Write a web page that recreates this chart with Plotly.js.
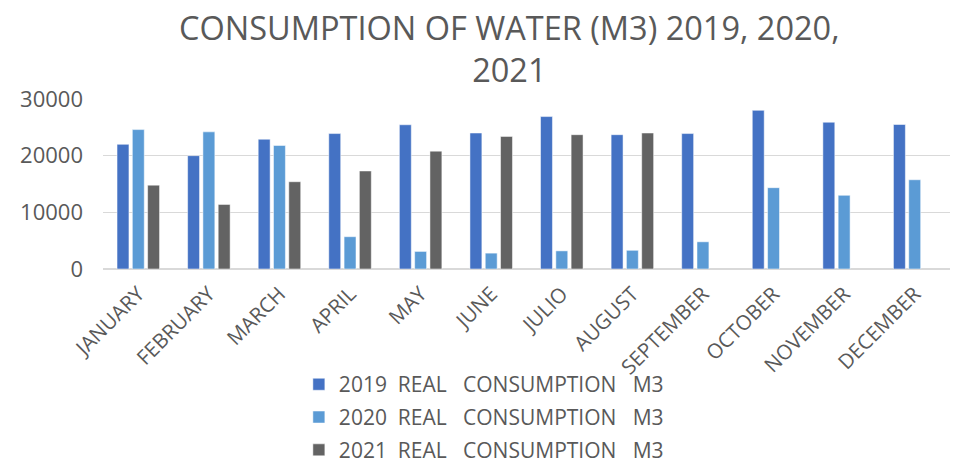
<!DOCTYPE html>
<html>
<head>
<meta charset="utf-8">
<script src="https://cdn.plot.ly/plotly-3.0.1.min.js"></script>
<style>html,body{margin:0;padding:0;background:#fff;}#chart{width:961px;height:465px;}</style>
</head>
<body>
<div id="chart"></div>
<script>
const months = ["JANUARY","FEBRUARY","MARCH","APRIL","MAY","JUNE","JULIO","AUGUST","SEPTEMBER","OCTOBER","NOVEMBER","DECEMBER"];
const consumption2019 = [22000,20000,22900,23900,25450,24000,26900,23700,23900,28000,25900,25500];
const consumption2020 = [24600,24200,21800,5700,3100,2800,3200,3300,4800,14350,13000,15750];
const consumption2021 = [14800,11400,15400,17300,20800,23400,23700,24000,null,null,null,null];
const seriesNames = ["2019\u00A0 REAL\u00A0\u00A0 CONSUMPTION\u00A0\u00A0 M3","2020\u00A0 REAL\u00A0\u00A0 CONSUMPTION\u00A0\u00A0 M3","2021\u00A0 REAL\u00A0\u00A0 CONSUMPTION\u00A0\u00A0 M3"];
const colors = ["#4472C4","#5B9BD5","#636363"];
const yTicks = [0,10000,20000,30000];

const values = [consumption2019, consumption2020, consumption2021];
const data = values.map((v,i)=>({
  type:'bar', x:months, y:v, name:seriesNames[i], legendgroup:'g'+i,
  marker:{color:colors[i], line:{color:'rgba(255,255,255,0.5)', width:1}},
  hoverinfo:'y'
}));

const layout = {
  width:961, height:465,
  margin:{l:103, r:11, t:99, b:196, autoexpand:false},
  paper_bgcolor:'#fff', plot_bgcolor:'#fff',
  font:{family:'"Open Sans", sans-serif', color:'#595959'},
  title:{text:'CONSUMPTION OF WATER (M3) 2019, 2020,<br>2021', x:0.53, xanchor:'center', y:0.915, yanchor:'middle',
    font:{size:32.5, color:'#595959'}, automargin:false},
  barmode:'group', bargap:0.35, bargroupgap:0.22,
  xaxis:{type:'category', tickangle:-45, tickfont:{size:20.5, color:'#595959'}, showgrid:false, showline:false, ticks:'', zeroline:false, ticklabelstandoff:8, automargin:false},
  yaxis:{range:[0,30000], tickvals:yTicks, ticktext:yTicks.map(String), tickfont:{size:22, color:'#595959'}, ticklabelstandoff:19, automargin:false,
    showgrid:true, gridcolor:'#d9d9d9', gridwidth:1.5, zeroline:true, zerolinecolor:'#d9d9d9', zerolinewidth:1.5, ticks:'', showline:false},
  legend:{orientation:'v', xref:'container', yref:'container', x:0.311, xanchor:'left', y:0.217, yanchor:'top', font:{size:21, color:'#595959'},
    traceorder:'grouped', tracegroupgap:2.5, itemwidth:30, bgcolor:'rgba(0,0,0,0)'},
  showlegend:true
};
Plotly.newPlot('chart', data, layout, {displayModeBar:false, staticPlot:true});
</script>
</body>
</html>
